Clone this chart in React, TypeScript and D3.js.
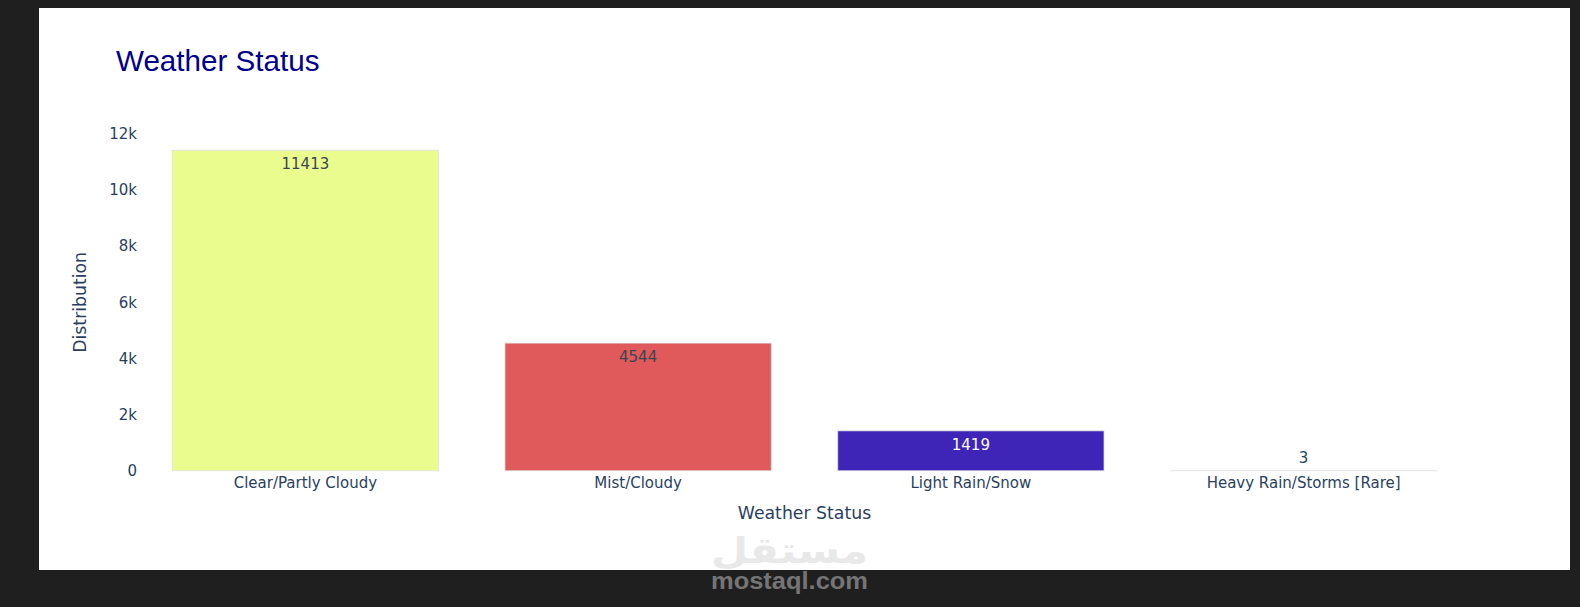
import React from "react";
import * as d3 from "d3";

const categories = ["Clear/Partly Cloudy", "Mist/Cloudy", "Light Rain/Snow", "Heavy Rain/Storms [Rare]"];
const counts = [11413, 4544, 1419, 3];
const barColors = ["#ebfc8e", "#e05a5b", "#3e25b7", "#fde3e3"];
const labelColors = ["#3b4452", "#3b4452", "#ffffff", "#2a3f5f"];
const yTicks = [0, 2000, 4000, 6000, 8000, 10000, 12000];

const W = 1580;
const H = 607;

export default function App() {
  const x = d3.scaleBand<string>().domain(categories).range([139, 1470]).paddingInner(0.2).paddingOuter(0.1);
  const y = d3.scaleLinear().domain([0, 12000]).range([470.7, 133.9]);
  const tickFmt = (v: number) => (v === 0 ? "0" : `${v / 1000}k`);
  const font = "'DejaVu Sans', Verdana, sans-serif";
  const axisColor = "#2a3f5f";

  return (
    <svg
      width={W}
      height={H}
      style={{ position: "absolute", left: 0, top: 0, display: "block" }}
    >
      <rect x={0} y={0} width={W} height={H} fill="#1f1f1f" />
      <rect x={39} y={8} width={1531} height={562} fill="#ffffff" />

      <text x={116} y={70.5} fontFamily="'Liberation Sans', Arial, sans-serif" fontSize={29.6} fill="#00008b">
        Weather Status
      </text>

      {yTicks.map((t) => (
        <text
          key={t}
          x={137}
          y={y(t) + 5.3}
          textAnchor="end"
          fontFamily={font}
          fontSize={15}
          fill={axisColor}
        >
          {tickFmt(t)}
        </text>
      ))}

      {categories.map((c, i) => {
        const x0 = x(c)!;
        const bw = x.bandwidth();
        const top = y(counts[i]);
        const h = y(0) - top;
        const inside = h > 30;
        return (
          <g key={c}>
            <rect
              x={x0}
              y={top}
              width={bw}
              height={Math.max(h, 0)}
              fill={barColors[i]}
              stroke="#dcdcdc"
              strokeOpacity={0.7}
              strokeWidth={1}
            />
            <text
              x={x0 + bw / 2}
              y={inside ? top + 18.8 : top - 7.8}
              textAnchor="middle"
              fontFamily={font}
              fontSize={15}
              fill={labelColors[i]}
            >
              {counts[i]}
            </text>
            <text
              x={x0 + bw / 2}
              y={488.3}
              textAnchor="middle"
              fontFamily={font}
              fontSize={15}
              fill={axisColor}
            >
              {c}
            </text>
          </g>
        );
      })}

      <text
        x={(139 + 1470) / 2}
        y={519.3}
        textAnchor="middle"
        fontFamily={font}
        fontSize={17.3}
        fill={axisColor}
      >
        Weather Status
      </text>
      <text
        transform={`translate(85.5, ${(134 + 470.7) / 2}) rotate(-90)`}
        textAnchor="middle"
        fontFamily={font}
        fontSize={17.3}
        fill={axisColor}
      >
        Distribution
      </text>

      <text
        x={789.5}
        y={563}
        textAnchor="middle"
        fontFamily="'DejaVu Sans', sans-serif"
        fontWeight="bold"
        fontSize={36}
        fill="#e8e8e8"
        textLength={157}
        lengthAdjust="spacingAndGlyphs"
      >
        مستقل
      </text>
      <text
        x={789.5}
        y={589}
        textAnchor="middle"
        fontFamily="'Liberation Sans', Arial, sans-serif"
        fontWeight="bold"
        fontSize={23}
        fill="#757575"
        textLength={157}
        lengthAdjust="spacingAndGlyphs"
      >
        mostaql.com
      </text>
    </svg>
  );
}
